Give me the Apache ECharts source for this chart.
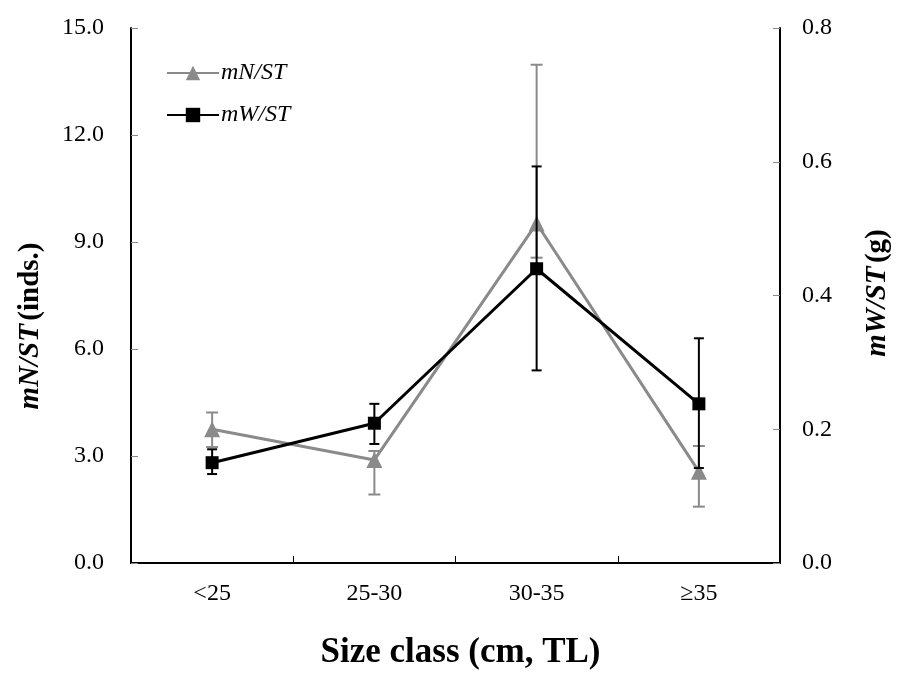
<!DOCTYPE html>
<html><head><meta charset="utf-8">
<script src="https://cdn.jsdelivr.net/npm/echarts@6/dist/echarts.min.js"></script>
<style>html,body{margin:0;padding:0;background:#fff}#c{width:898px;height:675px}</style>
</head><body><div id="c"></div>
<script>
const categories = ['<25', '25-30', '30-35', '≥35'];
const mN = [3.75, 2.89, 9.52, 2.56];
const mNLow = [3.25, 1.92, 8.56, 1.58];
const mNHigh = [4.22, 3.14, 13.97, 3.28];
const mW = [0.150, 0.209, 0.440, 0.238];
const mWLow = [0.133, 0.178, 0.288, 0.142];
const mWHigh = [0.170, 0.238, 0.593, 0.336];
const leftTicks = [0, 3, 6, 9, 12, 15];
const rightTicks = [0, 0.2, 0.4, 0.6, 0.8];

const FONT = 'Liberation Serif';
const GRAY = '#8a8a8a';

function errSeries(low, high, color, axisIdx, z, hw) {
  return {
    type: 'custom', yAxisIndex: axisIdx, z: z, silent: true,
    data: low.map((l, i) => [i, l, high[i]]),
    renderItem: function (params, api) {
      const x = api.value(0);
      const p1 = api.coord([x, api.value(1)]);
      const p2 = api.coord([x, api.value(2)]);
      const st = { stroke: color, lineWidth: 2 };
      return { type: 'group', children: [
        { type: 'line', shape: { x1: p1[0], y1: p1[1], x2: p2[0], y2: p2[1] }, style: st },
        { type: 'line', shape: { x1: p1[0] - hw, y1: p1[1], x2: p1[0] + hw, y2: p1[1] }, style: st },
        { type: 'line', shape: { x1: p2[0] - hw, y1: p2[1], x2: p2[0] + hw, y2: p2[1] }, style: st }
      ]};
    }
  };
}

const titleRich = {
  i: { fontFamily: FONT, fontSize: 29, fontWeight: 'bold', fontStyle: 'italic', color: '#000' },
  b: { fontFamily: FONT, fontSize: 29, fontWeight: 'bold', color: '#000' }
};

const chart = echarts.init(document.getElementById('c'));
chart.setOption({
  animation: false,
  textStyle: { fontFamily: FONT },
  grid: { left: 131, right: 118, top: 28, bottom: 106 },
  legend: {
    orient: 'vertical', left: 161, top: 56, itemGap: 18,
    itemWidth: 52, itemHeight: 18,
    textStyle: { fontFamily: FONT, fontStyle: 'italic', fontSize: 24, color: '#000', padding: [0, 0, 0, -3] },
    data: ['mN/ST', 'mW/ST']
  },
  graphic: [
    { type: 'text', x: 31, y: 326, rotation: Math.PI / 2,
      style: { text: '{i|mN/ST} {b|(inds.)}', rich: titleRich, align: 'center', verticalAlign: 'middle' } },
    { type: 'text', x: 878, y: 293, rotation: Math.PI / 2,
      style: { text: '{i|mW/ST} {b|(g)}', rich: titleRich, align: 'center', verticalAlign: 'middle' } }
  ],
  xAxis: {
    type: 'category', data: categories, boundaryGap: true,
    axisLine: { lineStyle: { color: '#000', width: 2 } },
    axisTick: { show: true, inside: true, length: 7, lineStyle: { color: '#000', width: 1 } },
    axisLabel: { fontFamily: FONT, fontSize: 24, color: '#000', margin: 19 },
    name: 'Size class (cm, TL)', nameLocation: 'middle', nameGap: 72,
    nameTextStyle: { fontFamily: FONT, fontSize: 35, fontWeight: 'bold', color: '#000', padding: [0, 0, 0, 10] }
  },
  yAxis: [
    {
      type: 'value', min: 0, max: 15, interval: 3, position: 'left',
      axisLine: { show: true, lineStyle: { color: '#000', width: 2 } },
      axisTick: { show: true, inside: true, length: 7, lineStyle: { color: '#888', width: 1 } },
      splitLine: { show: false },
      axisLabel: { fontFamily: FONT, fontSize: 24, color: '#000', margin: 27,
        formatter: v => leftTicks.includes(v) ? v.toFixed(1) : '' }
    },
    {
      type: 'value', min: 0, max: 0.8, interval: 0.2, position: 'right',
      axisLine: { show: true, lineStyle: { color: '#000', width: 2 } },
      axisTick: { show: true, inside: true, length: 7, lineStyle: { color: '#888', width: 1 } },
      splitLine: { show: false },
      axisLabel: { fontFamily: FONT, fontSize: 24, color: '#000', margin: 22,
        formatter: v => rightTicks.some(t => Math.abs(t - v) < 1e-9) ? v.toFixed(1) : '' }
    }
  ],
  series: [
    errSeries(mNLow, mNHigh, GRAY, 0, 1, 6),
    {
      name: 'mN/ST', type: 'line', yAxisIndex: 0, data: mN, z: 2,
      symbol: 'triangle', symbolSize: 16,
      lineStyle: { color: GRAY, width: 3 }, itemStyle: { color: GRAY }
    },
    errSeries(mWLow, mWHigh, '#000', 1, 3, 5),
    {
      name: 'mW/ST', type: 'line', yAxisIndex: 1, data: mW, z: 4,
      symbol: 'rect', symbolSize: 13,
      lineStyle: { color: '#000', width: 3 }, itemStyle: { color: '#000' }
    }
  ]
});
</script></body></html>
